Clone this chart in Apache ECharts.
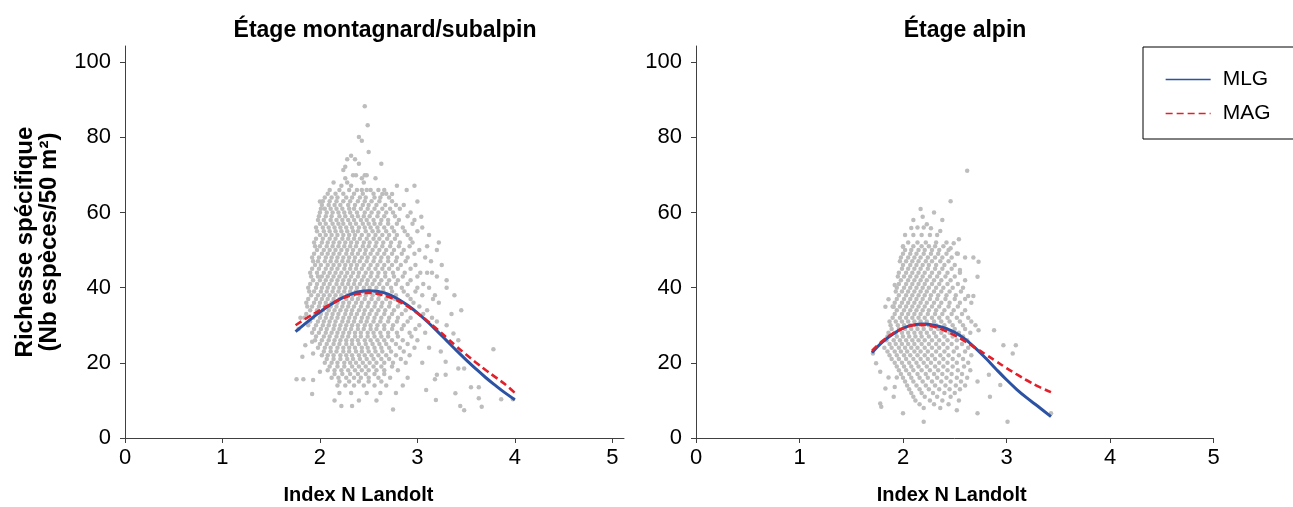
<!DOCTYPE html>
<html><head><meta charset="utf-8">
<script src="https://cdn.jsdelivr.net/npm/echarts@6/dist/echarts.min.js"></script>
<style>html,body{margin:0;padding:0;background:#fff}#c{width:1293px;height:507px}</style>
</head><body><div id="c"></div>
<script>
// ---- Data ----
const panelTitles = ['Étage montagnard/subalpin', 'Étage alpin'];
const xTickLabels = [0, 1, 2, 3, 4, 5];
const yTickLabels = [0, 20, 40, 60, 80, 100];
const seriesNames = ['MLG', 'MAG'];

// Left panel scatter: rows of [richness, [index N values]]
const leftRows = [
  [68, [2.14, 2.28, 2.45]],
  [66, [2.10, 2.20, 2.30, 2.38, 2.52, 2.60]],
  [64, [2.05, 2.12, 2.18, 2.27, 2.33, 2.41, 2.47, 2.56, 2.62, 2.71]],
  [62, [2.02, 2.09, 2.15, 2.21, 2.29, 2.36, 2.44, 2.50, 2.58, 2.67, 2.78, 2.86]],
  [60, [2.00, 2.07, 2.13, 2.19, 2.25, 2.31, 2.38, 2.46, 2.53, 2.60, 2.68, 2.75, 2.93]],
  [58, [1.98, 2.04, 2.11, 2.17, 2.23, 2.29, 2.35, 2.42, 2.48, 2.55, 2.63, 2.70, 2.81, 2.97]],
  [56, [1.96, 2.03, 2.09, 2.15, 2.21, 2.27, 2.33, 2.40, 2.46, 2.52, 2.59, 2.66, 2.74, 2.85, 3.05]],
  [54, [2.00, 2.06, 2.12, 2.18, 2.24, 2.30, 2.36, 2.43, 2.50, 2.57, 2.64, 2.71, 2.79, 2.90, 3.12]],
  [52, [1.94, 2.02, 2.08, 2.14, 2.20, 2.26, 2.32, 2.38, 2.45, 2.51, 2.58, 2.65, 2.73, 2.82, 2.95]],
  [50, [1.97, 2.04, 2.10, 2.16, 2.22, 2.28, 2.34, 2.41, 2.47, 2.54, 2.61, 2.68, 2.76, 2.86, 3.02, 3.20]],
  [48, [1.92, 1.99, 2.06, 2.12, 2.18, 2.24, 2.30, 2.36, 2.43, 2.49, 2.56, 2.63, 2.70, 2.79, 2.90, 3.08]],
  [46, [1.95, 2.01, 2.08, 2.14, 2.20, 2.26, 2.32, 2.38, 2.45, 2.52, 2.59, 2.66, 2.74, 2.83, 2.98, 3.25]],
  [44, [1.90, 1.97, 2.04, 2.10, 2.16, 2.22, 2.28, 2.34, 2.40, 2.47, 2.53, 2.60, 2.67, 2.75, 2.87, 3.03, 3.15]],
  [42, [1.93, 2.00, 2.06, 2.12, 2.18, 2.24, 2.30, 2.36, 2.43, 2.49, 2.56, 2.63, 2.71, 2.80, 2.93, 3.30]],
  [40, [1.88, 1.96, 2.02, 2.08, 2.14, 2.20, 2.26, 2.32, 2.38, 2.45, 2.51, 2.58, 2.65, 2.73, 2.84, 3.00, 3.12]],
  [38, [1.91, 1.98, 2.04, 2.10, 2.16, 2.22, 2.28, 2.34, 2.41, 2.47, 2.54, 2.61, 2.69, 2.78, 2.90, 3.05, 3.38]],
  [36, [1.86, 1.94, 2.00, 2.06, 2.12, 2.18, 2.24, 2.30, 2.37, 2.43, 2.50, 2.57, 2.64, 2.72, 2.82, 2.96, 3.22]],
  [34, [1.90, 1.97, 2.03, 2.09, 2.15, 2.21, 2.27, 2.33, 2.40, 2.46, 2.53, 2.60, 2.67, 2.76, 2.88, 3.10, 3.45]],
  [32, [1.84, 1.93, 2.00, 2.06, 2.12, 2.18, 2.24, 2.30, 2.36, 2.43, 2.49, 2.56, 2.63, 2.71, 2.80, 2.93, 3.15]],
  [30, [1.88, 1.96, 2.03, 2.09, 2.15, 2.21, 2.27, 2.33, 2.39, 2.46, 2.52, 2.59, 2.66, 2.75, 2.86, 3.02, 3.30]],
  [28, [1.92, 1.99, 2.06, 2.12, 2.18, 2.24, 2.30, 2.36, 2.42, 2.49, 2.55, 2.62, 2.70, 2.79, 2.92, 3.08]],
  [26, [1.95, 2.02, 2.09, 2.15, 2.21, 2.27, 2.33, 2.39, 2.46, 2.52, 2.59, 2.66, 2.74, 2.85, 3.00]],
  [24, [1.98, 2.05, 2.11, 2.18, 2.24, 2.30, 2.36, 2.43, 2.49, 2.56, 2.63, 2.71, 2.82, 2.97, 3.12]],
  [22, [2.02, 2.08, 2.14, 2.21, 2.27, 2.33, 2.40, 2.46, 2.53, 2.60, 2.68, 2.78, 2.92]],
  [20, [2.05, 2.12, 2.18, 2.25, 2.31, 2.37, 2.44, 2.51, 2.58, 2.66, 2.75, 2.88, 3.05]],
  [18, [2.08, 2.15, 2.22, 2.29, 2.36, 2.43, 2.50, 2.58, 2.66, 2.80]],
  [16, [2.12, 2.19, 2.27, 2.35, 2.42, 2.50, 2.60, 2.72, 2.90]],
  [14, [2.18, 2.26, 2.35, 2.45, 2.56, 2.68, 2.85]],
  [12, [2.20, 2.32, 2.48, 2.62, 2.78]],
  [10, [2.15, 2.40, 2.58]]
];
const leftRowsOdd = [
  [65, [2.08, 2.16, 2.24, 2.35, 2.44, 2.55, 2.68]],
  [63, [2.03, 2.10, 2.17, 2.24, 2.31, 2.39, 2.46, 2.53, 2.61, 2.74]],
  [61, [2.01, 2.05, 2.11, 2.17, 2.23, 2.30, 2.35, 2.42, 2.49, 2.56, 2.64, 2.72, 2.82]],
  [59, [1.99, 2.06, 2.12, 2.20, 2.26, 2.33, 2.39, 2.45, 2.51, 2.59, 2.66, 2.77, 2.90]],
  [57, [2.00, 2.06, 2.13, 2.19, 2.24, 2.31, 2.37, 2.44, 2.50, 2.56, 2.62, 2.70, 2.79, 2.95]],
  [55, [1.97, 2.04, 2.10, 2.16, 2.22, 2.28, 2.34, 2.39, 2.47, 2.54, 2.60, 2.68, 2.76, 2.87, 3.00]],
  [53, [1.96, 2.03, 2.10, 2.16, 2.23, 2.29, 2.35, 2.41, 2.48, 2.55, 2.61, 2.69, 2.77, 2.93]],
  [51, [1.95, 2.00, 2.07, 2.13, 2.19, 2.25, 2.31, 2.37, 2.44, 2.50, 2.57, 2.64, 2.72, 2.81, 2.92, 3.10]],
  [49, [1.94, 2.02, 2.08, 2.14, 2.20, 2.27, 2.33, 2.39, 2.46, 2.52, 2.59, 2.66, 2.74, 2.84, 2.97]],
  [47, [1.93, 1.98, 2.05, 2.11, 2.17, 2.23, 2.29, 2.35, 2.41, 2.48, 2.55, 2.62, 2.70, 2.78, 2.88, 3.14]],
  [45, [1.92, 1.99, 2.06, 2.12, 2.18, 2.25, 2.31, 2.37, 2.43, 2.50, 2.57, 2.64, 2.71, 2.80, 2.93]],
  [43, [1.91, 1.98, 2.02, 2.08, 2.14, 2.20, 2.26, 2.32, 2.39, 2.45, 2.52, 2.59, 2.67, 2.76, 2.85, 3.00, 3.20]],
  [41, [1.90, 1.97, 2.04, 2.10, 2.17, 2.23, 2.29, 2.35, 2.41, 2.48, 2.54, 2.61, 2.69, 2.78, 2.90, 3.06]],
  [39, [1.89, 1.94, 2.01, 2.07, 2.13, 2.19, 2.25, 2.31, 2.37, 2.44, 2.50, 2.57, 2.65, 2.74, 2.86, 2.98]],
  [37, [1.88, 1.96, 2.02, 2.08, 2.14, 2.20, 2.27, 2.33, 2.39, 2.46, 2.53, 2.60, 2.68, 2.77, 2.93, 3.16]],
  [35, [1.87, 1.92, 1.99, 2.05, 2.11, 2.17, 2.23, 2.29, 2.35, 2.42, 2.49, 2.56, 2.63, 2.71, 2.80, 3.02]],
  [33, [1.86, 1.95, 2.01, 2.07, 2.13, 2.19, 2.26, 2.32, 2.38, 2.45, 2.51, 2.58, 2.66, 2.74, 2.84, 3.06]],
  [31, [1.90, 1.98, 2.04, 2.10, 2.16, 2.23, 2.29, 2.35, 2.42, 2.48, 2.55, 2.62, 2.70, 2.79, 2.90, 3.20]],
  [29, [1.94, 2.01, 2.07, 2.14, 2.20, 2.26, 2.32, 2.39, 2.45, 2.52, 2.58, 2.66, 2.74, 2.84, 2.98]],
  [27, [1.96, 2.04, 2.10, 2.17, 2.23, 2.29, 2.36, 2.42, 2.49, 2.56, 2.63, 2.70, 2.80, 2.94]],
  [25, [2.00, 2.07, 2.14, 2.20, 2.27, 2.33, 2.40, 2.47, 2.54, 2.61, 2.68, 2.78, 2.90]],
  [23, [2.04, 2.11, 2.17, 2.24, 2.30, 2.37, 2.43, 2.50, 2.57, 2.64, 2.73, 2.86]],
  [21, [2.07, 2.14, 2.21, 2.28, 2.34, 2.41, 2.48, 2.55, 2.63, 2.71, 2.83]],
  [19, [2.10, 2.18, 2.25, 2.33, 2.40, 2.47, 2.55, 2.63, 2.74]],
  [17, [2.15, 2.23, 2.31, 2.39, 2.47, 2.56, 2.66]],
  [15, [2.20, 2.30, 2.40, 2.50, 2.63]]
];
const leftOutliers = [
  [2.46, 88.3], [2.49, 83.2], [2.40, 80.1], [2.43, 79.1], [2.50, 76.1], [2.32, 75.1], [2.28, 74.2], [2.36, 74.2],
  [2.40, 73.0], [2.63, 73.0], [2.26, 72.2], [2.24, 71.3], [2.34, 69.9], [2.37, 69.9], [2.46, 69.9], [2.48, 69.9],
  [2.26, 69.1], [2.43, 69.1], [2.57, 69.1], [2.22, 67.1], [2.32, 67.1], [2.79, 67.1], [2.97, 67.1], [2.43, 66.0],
  [2.48, 66.0], [2.89, 66.0], [2.66, 66.0], [2.64, 64.9], [2.74, 64.9], [2.00, 62.9], [3.00, 62.9], [3.04, 58.9],
  [1.76, 15.6], [1.83, 15.6], [1.92, 11.7], [2.22, 8.5], [2.33, 8.5], [2.75, 7.6], [3.44, 8.5], [3.48, 7.4],
  [3.66, 8.3], [3.78, 23.6], [3.98, 10.3], [3.86, 10.3], [3.63, 13.5], [3.55, 13.5], [3.42, 18.5], [3.48, 18.5],
  [3.20, 16.8], [3.29, 16.8], [3.18, 15.6], [3.09, 12.8], [3.19, 10.1], [3.39, 11.9], [3.63, 10.6], [1.82, 21.6],
  [1.85, 24.7], [1.92, 25.6], [1.93, 22.5], [2.00, 17.6], [1.93, 15.4], [3.37, 27.8], [3.29, 20.3], [3.24, 23.0],
  [1.80, 32.0], [1.78, 29.0], [3.10, 44.0], [3.18, 38.0], [3.22, 52.0], [3.35, 33.0], [3.30, 40.0], [3.42, 26.0]
];

// Right panel scatter
const rightRows = [
  [56, [2.14, 2.20]],
  [54, [2.10, 2.18, 2.26, 2.33]],
  [52, [2.05, 2.14, 2.22, 2.32, 2.42]],
  [50, [2.02, 2.08, 2.15, 2.21, 2.28, 2.35, 2.44]],
  [48, [1.98, 2.05, 2.11, 2.17, 2.24, 2.31, 2.38, 2.47, 2.60]],
  [46, [2.00, 2.07, 2.13, 2.19, 2.25, 2.32, 2.40, 2.50]],
  [44, [1.96, 2.03, 2.09, 2.15, 2.21, 2.28, 2.35, 2.43, 2.55]],
  [42, [1.98, 2.05, 2.11, 2.17, 2.23, 2.30, 2.37, 2.46, 2.60]],
  [40, [1.94, 2.01, 2.07, 2.13, 2.19, 2.25, 2.32, 2.39, 2.48, 2.58]],
  [38, [1.96, 2.03, 2.09, 2.15, 2.21, 2.27, 2.34, 2.42, 2.51]],
  [36, [1.92, 1.99, 2.05, 2.11, 2.17, 2.23, 2.30, 2.37, 2.45, 2.55, 2.66]],
  [34, [1.94, 2.01, 2.07, 2.13, 2.19, 2.25, 2.32, 2.40, 2.49, 2.60]],
  [32, [1.90, 1.97, 2.03, 2.09, 2.15, 2.21, 2.28, 2.35, 2.43, 2.52, 2.63]],
  [30, [1.88, 1.95, 2.01, 2.07, 2.13, 2.19, 2.25, 2.32, 2.40, 2.48, 2.58, 2.70]],
  [28, [1.86, 1.93, 1.99, 2.05, 2.11, 2.17, 2.23, 2.30, 2.37, 2.45, 2.54, 2.65]],
  [26, [1.84, 1.91, 1.97, 2.03, 2.09, 2.15, 2.21, 2.28, 2.35, 2.43, 2.52, 2.62]],
  [24, [1.82, 1.89, 1.96, 2.02, 2.08, 2.14, 2.21, 2.28, 2.35, 2.43, 2.52, 2.63]],
  [22, [1.87, 1.94, 2.01, 2.07, 2.14, 2.21, 2.28, 2.36, 2.44, 2.54, 2.66]],
  [20, [1.92, 1.99, 2.06, 2.13, 2.20, 2.27, 2.35, 2.43, 2.52, 2.63]],
  [18, [1.96, 2.03, 2.10, 2.18, 2.26, 2.34, 2.43, 2.53, 2.65]],
  [16, [2.00, 2.08, 2.16, 2.24, 2.33, 2.42, 2.52, 2.62]],
  [14, [2.04, 2.13, 2.22, 2.31, 2.41, 2.51, 2.60]],
  [12, [2.08, 2.18, 2.29, 2.40, 2.50]],
  [10, [2.12, 2.26, 2.38, 2.54]],
  [8, [2.20, 2.36]]
];
const rightRowsOdd = [
  [51, [2.00, 2.10, 2.18, 2.25, 2.31, 2.39]],
  [49, [2.00, 2.07, 2.13, 2.20, 2.27, 2.34, 2.42, 2.53]],
  [47, [1.97, 2.03, 2.09, 2.15, 2.22, 2.28, 2.36, 2.44]],
  [45, [1.99, 2.05, 2.11, 2.17, 2.24, 2.31, 2.38, 2.47]],
  [43, [1.95, 2.01, 2.07, 2.13, 2.19, 2.26, 2.33, 2.41, 2.50]],
  [41, [1.96, 2.03, 2.09, 2.15, 2.21, 2.28, 2.35, 2.43, 2.53]],
  [39, [1.93, 1.99, 2.05, 2.11, 2.17, 2.23, 2.30, 2.37, 2.45, 2.56]],
  [37, [1.94, 2.01, 2.07, 2.13, 2.19, 2.26, 2.33, 2.41, 2.50, 2.60]],
  [35, [1.90, 1.97, 2.03, 2.09, 2.15, 2.21, 2.28, 2.35, 2.44, 2.53]],
  [33, [1.92, 1.99, 2.05, 2.11, 2.17, 2.24, 2.31, 2.38, 2.47, 2.57]],
  [31, [1.87, 1.93, 1.99, 2.05, 2.11, 2.17, 2.23, 2.30, 2.37, 2.45, 2.55, 2.66]],
  [29, [1.89, 1.96, 2.02, 2.08, 2.14, 2.20, 2.27, 2.34, 2.42, 2.50, 2.60]],
  [27, [1.85, 1.94, 2.00, 2.06, 2.12, 2.18, 2.25, 2.32, 2.40, 2.48, 2.58]],
  [25, [1.87, 1.93, 1.99, 2.05, 2.11, 2.18, 2.25, 2.32, 2.39, 2.47, 2.57]],
  [23, [1.85, 1.92, 1.98, 2.04, 2.11, 2.17, 2.24, 2.32, 2.40, 2.49, 2.60]],
  [21, [1.89, 1.96, 2.03, 2.10, 2.17, 2.24, 2.31, 2.39, 2.48, 2.58]],
  [19, [1.94, 2.01, 2.08, 2.15, 2.23, 2.31, 2.39, 2.48, 2.59]],
  [17, [1.98, 2.06, 2.14, 2.22, 2.30, 2.38, 2.47, 2.57]],
  [15, [2.02, 2.10, 2.19, 2.28, 2.37, 2.46, 2.56]],
  [13, [2.06, 2.16, 2.25, 2.35, 2.45, 2.55]],
  [11, [2.10, 2.21, 2.33, 2.46]],
  [9, [2.16, 2.30, 2.44]]
];
const rightOutliers = [
  [2.62, 71.1], [2.46, 63.0], [2.17, 60.9], [2.30, 60.0], [2.19, 58.9], [2.10, 58.0], [2.38, 58.0], [2.23, 56.9],
  [2.08, 55.9], [2.27, 55.8], [2.36, 55.1], [2.02, 54.0], [2.54, 52.9], [2.49, 51.8], [2.00, 50.9], [2.46, 50.5],
  [2.52, 49.1], [2.68, 48.0], [2.73, 46.9], [2.55, 44.7], [1.92, 40.7], [2.72, 42.9], [2.63, 37.8], [2.68, 37.8],
  [1.86, 36.9], [1.83, 34.9], [1.91, 34.9], [1.71, 22.5], [1.74, 19.9], [1.78, 9.2], [1.79, 8.3], [2.00, 6.6],
  [2.20, 4.3], [2.52, 7.4], [2.72, 6.6], [3.01, 4.3], [2.84, 11.0], [2.97, 24.7], [3.09, 24.7], [3.06, 22.5],
  [2.88, 28.7], [2.73, 28.7], [2.83, 16.8], [2.94, 14.1], [2.72, 15.0], [3.43, 6.6], [1.91, 11.0], [1.83, 13.2],
  [1.92, 13.6], [1.86, 16.1], [1.94, 16.1], [1.78, 17.6]
];

// Fitted curves
const leftCurveX = [1.75, 1.9, 2.0, 2.1, 2.2, 2.3, 2.4, 2.5, 2.6, 2.7, 2.8, 2.9, 3.0, 3.1, 3.2, 3.3, 3.4, 3.5, 3.6, 3.7, 3.8, 3.9, 4.0];
const leftMLG = [28.3, 31.5, 33.5, 35.3, 36.9, 38.1, 38.9, 39.2, 39.0, 38.3, 37.0, 35.3, 33.3, 31.0, 28.5, 25.9, 23.3, 20.8, 18.4, 16.1, 14.0, 12.0, 10.2];
const leftMAG = [30.0, 32.5, 34.0, 35.5, 36.8, 37.8, 38.4, 38.6, 38.3, 37.6, 36.5, 35.0, 33.2, 31.2, 29.0, 26.7, 24.4, 22.2, 20.1, 18.1, 16.2, 14.3, 12.0];
const rightCurveX = [1.7, 1.8, 1.9, 2.0, 2.1, 2.2, 2.3, 2.4, 2.5, 2.6, 2.7, 2.8, 2.9, 3.0, 3.1, 3.2, 3.3, 3.43];
const rightMLG = [22.7, 25.5, 27.6, 29.2, 30.1, 30.3, 30.0, 29.3, 28.1, 26.3, 23.9, 21.2, 18.3, 15.5, 12.9, 10.6, 8.5, 5.7];
const rightMAG = [23.2, 25.8, 27.8, 29.2, 30.0, 30.1, 29.6, 28.6, 27.3, 25.7, 24.0, 22.2, 20.4, 18.6, 16.9, 15.3, 13.8, 12.2];

// ---- Build ----
function rowsToPoints(rows) {
  const pts = [];
  rows.forEach(function (r) { r[1].forEach(function (x) { pts.push([x, r[0]]); }); });
  return pts;
}
function pair(xs, ys) { return xs.map(function (x, i) { return [x, ys[i]]; }); }

const FONT = '"Liberation Sans", Arial, sans-serif';
const axisCol = '#404040';
const BLUE = '#2b52a3';
const RED = '#e3202a';

function xAxis(idx, max, shiftPad) {
  return {
    type: 'value', gridIndex: idx, min: 0, max: max, interval: 1,
    name: 'Index N Landolt', nameLocation: 'middle', nameGap: 47,
    nameTextStyle: { fontFamily: FONT, fontSize: 20, fontWeight: 'bold', color: '#000', padding: [0, shiftPad, 0, 0] },
    axisLine: { show: true, onZero: false, lineStyle: { color: axisCol, width: 1 } },
    axisTick: { show: true, inside: false, length: 5, customValues: xTickLabels, lineStyle: { color: axisCol } },
    axisLabel: { customValues: xTickLabels, fontFamily: FONT, fontSize: 22, color: '#000', margin: 9 },
    splitLine: { show: false }
  };
}
function yAxis(idx, withName) {
  const a = {
    type: 'value', gridIndex: idx, min: 0, max: 104.3, interval: 20,
    axisLine: { show: true, onZero: false, lineStyle: { color: axisCol, width: 1 } },
    axisTick: { show: true, inside: false, length: 5, customValues: yTickLabels, lineStyle: { color: axisCol } },
    axisLabel: { customValues: yTickLabels, fontFamily: FONT, fontSize: 22, color: '#000', margin: 14 },
    splitLine: { show: false }
  };
  if (withName) {
    a.name = 'Richesse spécifique\n(Nb espèces/50 m²)';
    a.nameLocation = 'middle';
    a.nameGap = 64;
    a.nameTextStyle = { fontFamily: FONT, fontSize: 24, fontWeight: 'bold', color: '#000', lineHeight: 24 };
  }
  return a;
}
function scatter(idx, data) {
  return {
    type: 'scatter', xAxisIndex: idx, yAxisIndex: idx, data: data,
    symbol: 'circle', symbolSize: 4.5, silent: true, z: 1,
    itemStyle: { color: '#bdbdbd', opacity: 1 }
  };
}
function curve(idx, name, data, color, dashed) {
  return {
    type: 'line', name: name, xAxisIndex: idx, yAxisIndex: idx, data: data,
    smooth: 0.4, symbol: 'none', showSymbol: false, z: dashed ? 4 : 3,
    lineStyle: { color: color, width: dashed ? 2.6 : 3, type: dashed ? [7, 4] : 'solid' },
    itemStyle: { color: color }
  };
}

const chart = echarts.init(document.getElementById('c'), null, { renderer: 'canvas' });
chart.setOption({
  animation: false,
  backgroundColor: '#fff',
  title: [
    { text: panelTitles[0], left: 380, top: 14, textAlign: 'center',
      textStyle: { fontFamily: FONT, fontSize: 23, fontWeight: 'bold', color: '#000' } },
    { text: panelTitles[1], left: 960, top: 14, textAlign: 'center',
      textStyle: { fontFamily: FONT, fontSize: 23, fontWeight: 'bold', color: '#000' } }
  ],
  legend: {
    data: seriesNames, orient: 'vertical', left: 1143, top: 47,
    padding: [22, 40, 15, 22], itemGap: 13, itemWidth: 45, itemHeight: 14,
    borderColor: '#000', borderWidth: 1, borderRadius: 0,
    textStyle: { fontFamily: FONT, fontSize: 21, lineHeight: 21, color: '#000', padding: [0, 0, 0, 7] },
    lineStyle: { width: 1.3 },
    itemStyle: { opacity: 0 }
  },
  grid: [
    { left: 125, top: 46, width: 499, height: 392, containLabel: false, outerBoundsMode: 'none' },
    { left: 696, top: 46, width: 517.5, height: 392, containLabel: false, outerBoundsMode: 'none' }
  ],
  xAxis: [xAxis(0, 5.12, 32), xAxis(1, 5, 6)],
  yAxis: [yAxis(0, true), yAxis(1, false)],
  series: [
    scatter(0, rowsToPoints(leftRows.concat(leftRowsOdd)).concat(leftOutliers)),
    scatter(1, rowsToPoints(rightRows.concat(rightRowsOdd)).concat(rightOutliers)),
    curve(0, seriesNames[0], pair(leftCurveX, leftMLG), BLUE, false),
    curve(0, seriesNames[1], pair(leftCurveX, leftMAG), RED, true),
    curve(1, seriesNames[0], pair(rightCurveX, rightMLG), BLUE, false),
    curve(1, seriesNames[1], pair(rightCurveX, rightMAG), RED, true)
  ]
});
</script></body></html>
